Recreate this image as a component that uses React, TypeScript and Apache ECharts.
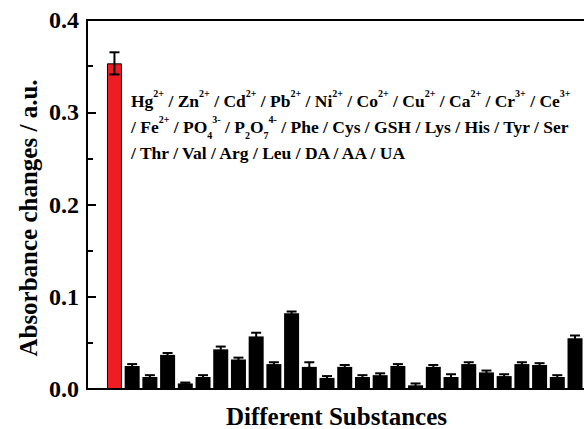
import React, { useEffect, useRef } from "react";
import * as echarts from "echarts";

// Bars in drawing order (first = target, red; others = interferents)
const substances = [
  "Target", "Hg2+", "Zn2+", "Cd2+", "Pb2+", "Ni2+", "Co2+", "Cu2+", "Ca2+", "Cr3+", "Ce3+",
  "Fe2+", "PO43-", "P2O74-", "Phe", "Cys", "GSH", "Lys", "His", "Tyr", "Ser",
  "Thr", "Val", "Arg", "Leu", "DA", "AA",
];
const absorbanceChanges = [
  0.353, 0.025, 0.013, 0.037, 0.006, 0.013, 0.043, 0.032, 0.057, 0.027, 0.082,
  0.024, 0.012, 0.024, 0.013, 0.015, 0.025, 0.004, 0.024, 0.013, 0.027,
  0.018, 0.014, 0.027, 0.026, 0.013, 0.055,
];
const errors = [
  0.012, 0.002, 0.002, 0.002, 0.001, 0.002, 0.003, 0.002, 0.004, 0.002, 0.002,
  0.005, 0.002, 0.002, 0.002, 0.002, 0.002, 0.002, 0.002, 0.003, 0.002,
  0.002, 0.002, 0.002, 0.002, 0.002, 0.003,
];
const yTicks = [0, 0.1, 0.2, 0.3, 0.4];
const legendLines = [
  "Hg{sup|2+} / Zn{sup|2+} / Cd{sup|2+} / Pb{sup|2+} / Ni{sup|2+} / Co{sup|2+} / Cu{sup|2+} / Ca{sup|2+} / Cr{sup|3+} / Ce{sup|3+}",
  "/ Fe{sup|2+} / PO{sub|4}{sup|3-} / P{sub|2}O{sub|7}{sup|4-} / Phe / Cys / GSH / Lys / His / Tyr / Ser",
  "/ Thr / Val / Arg / Leu / DA / AA / UA",
];
const yAxisTitle = "Absorbance changes / a.u.";
const xAxisTitle = "Different Substances";

const FONT = "'Liberation Serif', 'Times New Roman', serif";

export default function App() {
  const ref = useRef<HTMLDivElement>(null);
  useEffect(() => {
    if (!ref.current) return;
    const chart = echarts.init(ref.current, null, { renderer: "svg" });
    const barData = absorbanceChanges.map((v, i) => ({
      value: [i, v],
      name: substances[i],
      itemStyle:
        i === 0
          ? { color: "#EE1D23", borderColor: "#000", borderWidth: 1 }
          : { color: "#000" },
    }));
    const errData = absorbanceChanges.map((v, i) => [i, v, errors[i]]);
    chart.setOption({
      animation: false,
      grid: {
        left: 87,
        top: 20,
        right: -2,
        bottom: 40,
        show: true,
        borderColor: "#000",
        borderWidth: 2,
        backgroundColor: "transparent",
        containLabel: false,
        outerBoundsMode: "none",
      },
      xAxis: {
        type: "value",
        min: -1.55,
        max: 26.62,
        axisLine: { show: true, onZero: false, lineStyle: { color: "#000", width: 2 } },
        axisTick: { show: false },
        axisLabel: { show: false },
        splitLine: { show: false },
        name: xAxisTitle,
        nameLocation: "middle",
        nameGap: 15,
        nameTextStyle: {
          fontFamily: FONT,
          fontWeight: "bold",
          fontSize: 25,
          color: "#000",
        },
      },
      yAxis: {
        type: "value",
        min: 0,
        max: 0.4,
        interval: 0.1,
        axisLine: { show: true, onZero: false, lineStyle: { color: "#000", width: 2 } },
        axisTick: { show: true, inside: true, length: 9, lineStyle: { color: "#000", width: 2 } },
        minorTick: { show: true, splitNumber: 2, length: 6, lineStyle: { color: "#000", width: 2 } },
        axisLabel: {
          margin: 8,
          formatter: (v: number) => (yTicks.some((t) => Math.abs(t - v) < 1e-9) ? v.toFixed(1) : ""),
          fontFamily: FONT,
          fontWeight: "bold",
          fontSize: 24,
          color: "#000",
        },
        splitLine: { show: false },
      },
      graphic: [
        {
          type: "text",
          x: 28,
          y: 218,
          rotation: Math.PI / 2,
          style: {
            text: yAxisTitle,
            fontFamily: FONT,
            fontWeight: "bold",
            fontSize: 25,
            fill: "#000",
            align: "center",
            verticalAlign: "middle",
          },
        },
        {
          type: "text",
          x: 131,
          y: 88,
          z: 10,
          style: {
            text: legendLines.join("\n"),
            fontFamily: FONT,
            fontWeight: "bold",
            fontSize: 17.5,
            lineHeight: 26,
            fill: "#000",
            align: "left",
            verticalAlign: "top",
            rich: {
              sup: {
                fontFamily: FONT,
                fontWeight: "bold",
                fontSize: 10,
                lineHeight: 16,
                verticalAlign: "top",
                fill: "#000",
              },
              sub: {
                fontFamily: FONT,
                fontWeight: "bold",
                fontSize: 10,
                lineHeight: 12,
                verticalAlign: "bottom",
                fill: "#000",
              },
            },
          },
        },
      ],
      series: [
        {
          type: "bar",
          data: barData,
          barWidth: 15,
          z: 2,
        },
        {
          type: "custom",
          z: 3,
          data: errData,
          renderItem: (params: any, api: any) => {
            const x = api.value(0);
            const v = api.value(1);
            const e = api.value(2);
            const top = api.coord([x, v + e]);
            const bot = api.coord([x, v - e]);
            const cw = 5;
            const style = { stroke: "#000", lineWidth: 2 };
            return {
              type: "group",
              children: [
                { type: "line", shape: { x1: top[0], y1: top[1], x2: bot[0], y2: bot[1] }, style },
                { type: "line", shape: { x1: top[0] - cw, y1: top[1], x2: top[0] + cw, y2: top[1] }, style },
                { type: "line", shape: { x1: bot[0] - cw, y1: bot[1], x2: bot[0] + cw, y2: bot[1] }, style },
              ],
            };
          },
        },
      ],
    });
    return () => chart.dispose();
  }, []);
  return (
    <div
      ref={ref}
      style={{ position: "fixed", left: 0, top: 0, width: 584, height: 429, background: "#fff" }}
    />
  );
}
